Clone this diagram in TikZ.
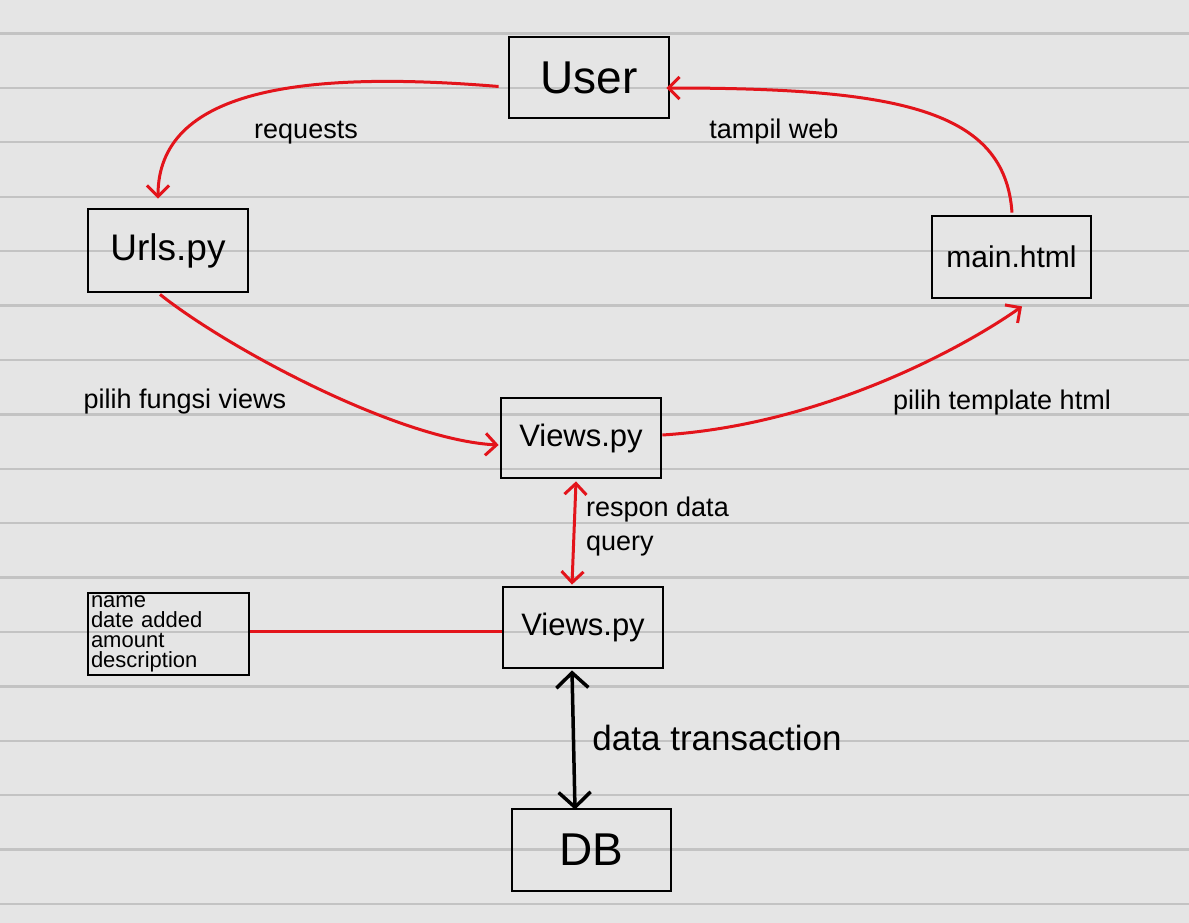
\documentclass[tikz,border=0pt]{standalone}
\usepackage{fontspec}
\setmainfont{Liberation Sans}
\usetikzlibrary{arrows.meta}
\definecolor{paper}{HTML}{E5E5E5}
\definecolor{ruling}{HTML}{C3C3C3}
\definecolor{pen}{HTML}{E3141B}
\tikzset{
  box/.style={draw=black, line width=2.8pt, minimum width=160pt, minimum height=81pt, inner sep=0pt},
  redline/.style={draw=pen, line width=3pt},
  blackline/.style={draw=black, line width=3.5pt},
  lbl/.style={font=\fontsize{27}{34}\selectfont, inner sep=0pt},
  >={Straight Barb[length=11pt,width=22pt]}
}
\begin{document}
\begin{tikzpicture}[x=1pt,y=-1pt]
\useasboundingbox (0,0) rectangle (1189,923);
\fill[paper] (0,0) rectangle (1189,923);
\foreach \k in {0,...,16} {
  \draw[ruling, line width=2.4pt] (0,33.5+54.4*\k) -- (1189,33.5+54.4*\k);
}
% boxes
\node[box, font=\fontsize{46}{50}\selectfont] (user) at (589,77.5) {User};
\node[box, minimum height=83pt, font=\fontsize{37}{40}\selectfont] (urls) at (168,250.5) {Urls.py};
\node[box, minimum width=159pt, minimum height=82pt, font=\fontsize{30}{34}\selectfont] (main) at (1011.5,257) {main.html};
\node[box, minimum height=80pt, font=\fontsize{31}{34}\selectfont] (views1) at (581,438) {Views.py};
\node[box, font=\fontsize{31}{34}\selectfont] (views2) at (583,627.5) {Views.py};
\node[box, minimum width=161pt, minimum height=82pt, align=left, text width=155pt, inner xsep=3pt, inner ysep=0pt,
      font=\fontsize{22}{20}\selectfont] (fields) at (168.5,634) {name\\date added\\amount\\description};
\node[box, minimum width=159pt, minimum height=82pt, font=\fontsize{46}{50}\selectfont] (db) at (591.5,850) {DB};
% labels
\node[lbl] (lreq) at (306,133) {requests};
\node[lbl] (ltam) at (774,132) {tampil web};
\node[lbl] (lfun) at (185,402) {pilih fungsi views};
\node[lbl] (ltem) at (1002,403) {pilih template html};
\node[lbl, align=left, anchor=north west] (lres) at (586,497) {respon data\\query};
\node[lbl, font=\fontsize{35}{40}\selectfont] (ltrx) at (717,738) {data transaction};
% connectors
\draw[redline, ->] ([shift={(-9,9)}]user.west) .. controls (300,70) and (158,90) .. ([shift={(-10,-9)}]urls.north);
\draw[redline, ->] ([shift={(-8,1)}]urls.south) .. controls (230,350) and (400,440) .. ([shift={(-1,7)}]views1.west);
\draw[redline, ->] ([shift={(0,-3)}]views1.east) .. controls (820,425) and (960,350) .. ([shift={(10.5,7)}]main.south);
\draw[redline, ->] ([shift={(0.5,-2)}]main.north) .. controls (1005,110) and (900,88) .. ([shift={(-4,10.5)}]user.east);
\draw[redline, <->] ([shift={(-5,2)}]views1.south) -- ([shift={(-11,-1)}]views2.north);
\draw[redline] ([shift={(0,-3)}]fields.east) -- ([shift={(0,3.5)}]views2.west);
\draw[blackline, >={Straight Barb[length=15pt,width=32pt]}, <->] ([shift={(-11,1)}]views2.south) -- ([shift={(-16.5,2)}]db.north);
\end{tikzpicture}
\end{document}
